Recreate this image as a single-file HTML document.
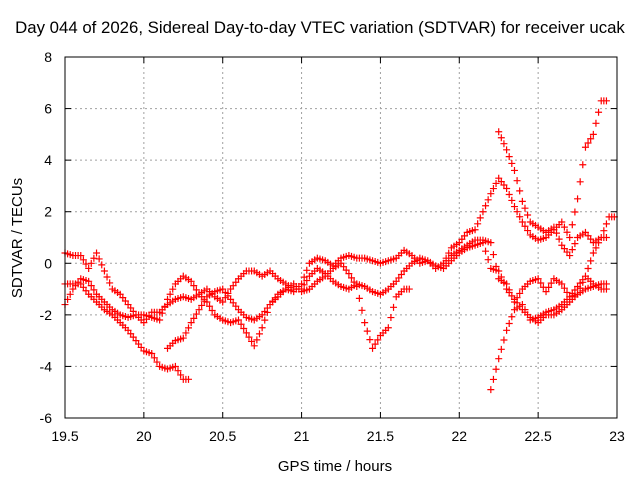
<!DOCTYPE html>
<html><head><meta charset="utf-8"><style>
body{margin:0;background:#fff}
svg{display:block;font-family:"Liberation Sans",sans-serif}
</style></head><body>
<svg id="c" width="640" height="480" xmlns="http://www.w3.org/2000/svg">
<text x="320" y="33" font-size="16.8" text-anchor="middle">Day 044 of 2026, Sidereal Day-to-day VTEC variation (SDTVAR) for receiver ucak</text>
<text x="335" y="471" font-size="15" text-anchor="middle">GPS time / hours</text>
<text transform="translate(22,238) rotate(-90)" font-size="15" text-anchor="middle">SDTVAR / TECUs</text>
<g id="grid"></g>
<g id="ticks"></g>
<g id="pts"></g>
<rect x="65" y="57" width="552" height="361" fill="none" stroke="#000"/>
</svg>
<script>
const xTicks=[19.5,20,20.5,21,21.5,22,22.5,23];
const xTickLabels=["19.5","20","20.5","21","21.5","22","22.5","23"];
const yTicks=[-6,-4,-2,0,2,4,6,8];
const yTickLabels=["-6","-4","-2","0","2","4","6","8"];
const step=0.05;
const t1Start=19.5, t1=[-0.8,-0.8,-0.8,-1.2,-1.5,-1.8,-2.0,-2.3,-2.6,-3.0,-3.4,-3.5,-4.0,-4.1,-4.0,-4.5];
const t2Start=19.5, t2=[-1.6,-1.0,-0.6,-0.7,-1.2,-1.5,-1.8,-2.0,-2.1,-2.0,-2.3,-1.9,-1.9,-1.6,-1.4,-1.3,-1.4,-1.2,-1.0,-1.3,-1.5,-1.0,-0.6,-0.3,-0.3,-0.5,-0.3,-0.6,-0.8,-1.0,-1.0,-0.5,-0.2,-0.4,-0.7,-0.9,-1.0,-0.8,-0.9,-1.1,-1.2,-1.0,-0.7,-0.3,0.0,0.2,0.1,-0.1,-0.2,0.1,0.4,0.6,0.7,0.8,-0.2,-0.3,-1.0,-1.4,-1.8,-2.1,-2.3,-2.0,-2.0,-1.8,-1.5,-1.2,-1.0,-0.9,-0.8];
const t3Start=19.5, t3=[0.4,0.3,0.3,-0.2,0.4,-0.3,-1.0,-1.2,-1.6,-2.0,-2.0,-2.1,-2.2,-1.4,-0.8,-0.5,-0.7,-1.2,-1.5,-2.0,-2.2,-2.3,-2.2,-2.7,-3.2,-2.5,-1.6,-1.3,-1.0,-1.1,-0.8,0.0,0.2,0.1,-0.1,0.2,0.3,0.2,0.2,0.1,0.0,0.1,0.2,0.5,0.3,0.0,0.1,-0.2,0.0,0.6,0.8,1.2,1.3,2.0,2.7,3.3,2.9,2.2,1.6,1.1,0.9,1.0,1.3,1.6,1.0,2.5,4.5,5.0,6.3];
const t4Start=20.15, t4=[-3.3,-3.0,-2.9,-2.3,-1.8,-1.3,-1.1,-1.0,-1.4,-1.8,-2.1,-2.2,-2.0,-1.6,-1.2,-1.0,-0.8,-1.1,-1.0,-0.7,-0.5,-0.2,0.0,-0.4,-0.9,-2.3,-3.3,-2.8,-2.5,-1.3,-1.0];
const t5Start=21.9, t5=[0.0,0.3,0.5,0.7,0.9,0.9,0.8,-0.6,-0.8,-1.5,-1.0,-0.7,-0.6,-1.1,-0.6,-0.8,-1.3,-1.2,-0.5,-0.8,-1.0];
const t6Start=22.2, t6=[-4.9,-3.7,-2.6,-1.8,-1.6,-2.2,-2.1,-1.9,-1.8,-1.6,-1.3,-0.9,-0.5,0.4,1.0,1.8];
const t7Start=22.25, t7=[5.1,4.4,3.6,2.4,1.6,1.4,1.2,1.4,0.7,0.3,1.0,1.2,0.8,1.0];
const tracks=[[t1Start,t1],[t2Start,t2],[t3Start,t3],[t4Start,t4],[t5Start,t5],[t6Start,t6],[t7Start,t7]];
const X=v=>65+(v-19.5)/3.5*552;
const Y=v=>418-(v+6)/14*361;
const NS="http://www.w3.org/2000/svg";
function mk(tag,attrs,parent){const e=document.createElementNS(NS,tag);for(const k in attrs)e.setAttribute(k,attrs[k]);parent.appendChild(e);return e;}
const grid=document.getElementById('grid'),ticks=document.getElementById('ticks'),pts=document.getElementById('pts');
xTicks.forEach((v,i)=>{const x=X(v);
 if(i>0&&i<xTicks.length-1){const l=mk('line',{x1:x,y1:57,x2:x,y2:418,stroke:'#a0a0a0','stroke-dasharray':'2,3'},grid);}
 mk('line',{x1:x,y1:418,x2:x,y2:412,stroke:'#000'},ticks);mk('line',{x1:x,y1:57,x2:x,y2:63,stroke:'#000'},ticks);
 const t=mk('text',{x:x,y:441,'font-size':14,'text-anchor':'middle'},ticks);t.textContent=xTickLabels[i];
 });
yTicks.forEach((v,i)=>{const y=Y(v);
 if(i>0&&i<yTicks.length-1){const l=mk('line',{x1:65,y1:y,x2:617,y2:y,stroke:'#a0a0a0','stroke-dasharray':'2,3'},grid);}
 mk('line',{x1:65,y1:y,x2:71,y2:y,stroke:'#000'},ticks);mk('line',{x1:617,y1:y,x2:611,y2:y,stroke:'#000'},ticks);
 const t=mk('text',{x:52,y:y+5,'font-size':14,'text-anchor':'end'},ticks);t.textContent=yTickLabels[i];
 });
let d='';
tracks.forEach(([s,vals])=>{vals.forEach((v,i)=>{const x=X(s+i*step),y=Y(v);
 const yn=i+1<vals.length?Y(vals[i+1]):y;
 for(const f of [0,0.33,0.66]){const cx=x+f*7.9,cy=y+f*(yn-y);
  d+=`M${cx-3.5},${cy}h7M${cx},${cy-3.5}v7`;}
});});
const p=mk('path',{d:d,stroke:'#f00','stroke-width':1.2,fill:'none'},pts);


</script>
</body></html>
